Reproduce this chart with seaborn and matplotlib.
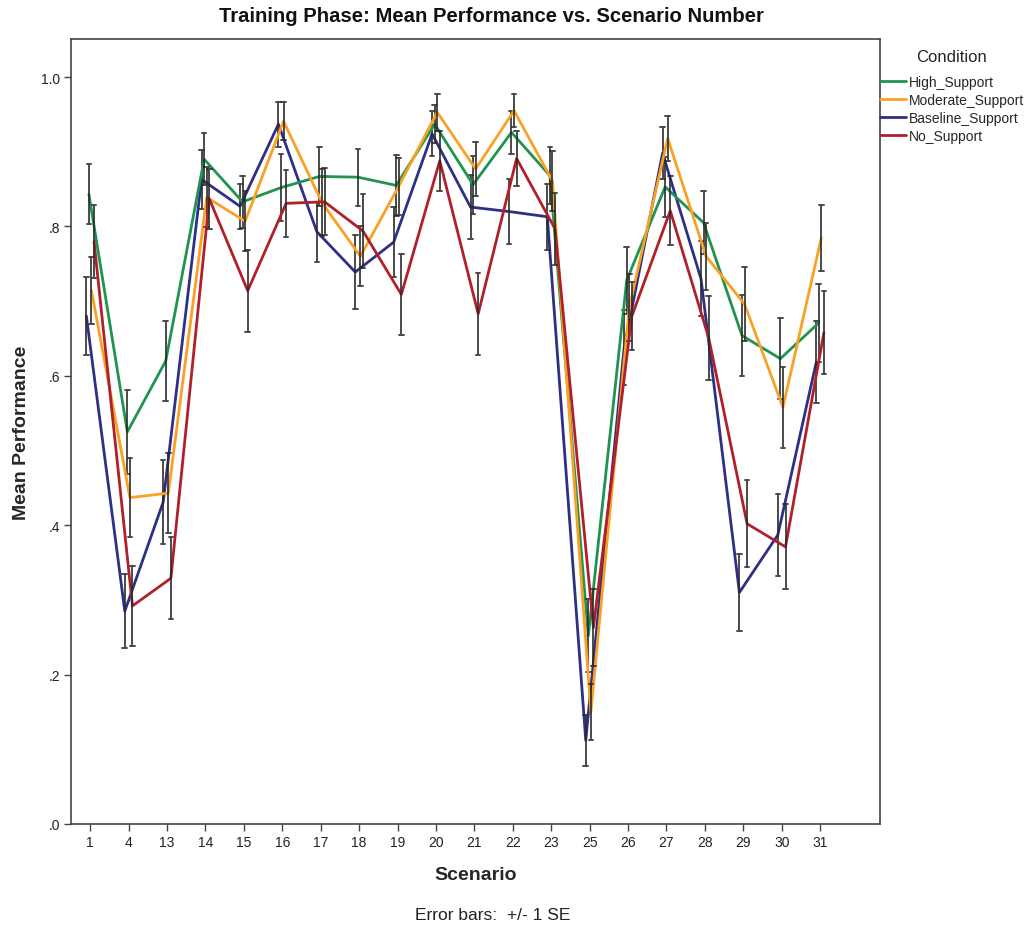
import numpy as np
import pandas as pd
import matplotlib
matplotlib.use("Agg")
import matplotlib.pyplot as plt
import seaborn as sns

# ---------------- data ----------------
scenarios = ["1", "4", "13", "14", "15", "16", "17", "18", "19", "20",
             "21", "22", "23", "25", "26", "27", "28", "29", "30", "31"]

high_mean = [0.843, 0.525, 0.620, 0.890, 0.833, 0.852, 0.867, 0.866, 0.855, 0.937,
             0.856, 0.926, 0.868, 0.252, 0.728, 0.853, 0.805, 0.654, 0.623, 0.671]
high_se = [0.040, 0.056, 0.054, 0.035, 0.035, 0.045, 0.040, 0.038, 0.041, 0.025,
           0.039, 0.029, 0.038, 0.049, 0.045, 0.040, 0.042, 0.054, 0.054, 0.052]

moderate_mean = [0.714, 0.437, 0.443, 0.839, 0.807, 0.941, 0.832, 0.760, 0.854, 0.953,
                 0.877, 0.955, 0.861, 0.150, 0.692, 0.918, 0.760, 0.696, 0.558, 0.785]
moderate_se = [0.045, 0.053, 0.054, 0.040, 0.040, 0.025, 0.045, 0.040, 0.038, 0.025,
               0.036, 0.022, 0.040, 0.037, 0.045, 0.030, 0.045, 0.050, 0.054, 0.044]

baseline_mean = [0.680, 0.285, 0.431, 0.863, 0.827, 0.937, 0.793, 0.739, 0.779, 0.924,
                 0.826, 0.820, 0.813, 0.112, 0.638, 0.898, 0.730, 0.310, 0.387, 0.618]
baseline_se = [0.052, 0.050, 0.056, 0.040, 0.030, 0.030, 0.040, 0.050, 0.047, 0.030,
               0.043, 0.044, 0.044, 0.034, 0.050, 0.035, 0.050, 0.052, 0.055, 0.055]

no_mean = [0.780, 0.292, 0.329, 0.837, 0.714, 0.831, 0.833, 0.794, 0.709, 0.888,
           0.683, 0.891, 0.797, 0.263, 0.680, 0.821, 0.651, 0.402, 0.371, 0.658]
no_se = [0.049, 0.054, 0.055, 0.040, 0.055, 0.045, 0.045, 0.050, 0.054, 0.040,
         0.055, 0.037, 0.048, 0.052, 0.045, 0.046, 0.056, 0.058, 0.057, 0.056]

conditions = ["High_Support", "Moderate_Support", "Baseline_Support", "No_Support"]
colors = ["#1e9450", "#f9a125", "#2e3086", "#b0202a"]
y_ticks = [0.0, 0.2, 0.4, 0.6, 0.8, 1.0]
y_tick_labels = [".0", ".2", ".4", ".6", ".8", "1.0"]

means = {"High_Support": high_mean, "Moderate_Support": moderate_mean,
         "Baseline_Support": baseline_mean, "No_Support": no_mean}
ses = {"High_Support": high_se, "Moderate_Support": moderate_se,
       "Baseline_Support": baseline_se, "No_Support": no_se}

# long table: each point stored as its lower / upper SE bound (mean of the two = mean)
rows = []
for cond in conditions:
    for sc, m, s in zip(scenarios, means[cond], ses[cond]):
        rows.append({"Scenario": sc, "Condition": cond, "Value": m - s})
        rows.append({"Scenario": sc, "Condition": cond, "Value": m + s})
df = pd.DataFrame(rows)

# ---------------- plot ----------------
sns.set_theme(style="white")
plt.rcParams["font.family"] = ["Liberation Sans", "DejaVu Sans"]

fig = plt.figure(figsize=(10.31, 9.28), dpi=100)
ax = fig.add_axes([71 / 1031, 1 - 825 / 928, (880 - 71) / 1031, (825 - 40) / 928])

dodge_order = sorted(conditions)  # dodge offsets follow alphabetical order
palette = dict(zip(conditions, colors))

sns.pointplot(
    data=df, x="Scenario", y="Value", hue="Condition",
    order=scenarios, hue_order=dodge_order, palette=palette,
    estimator="mean", errorbar=lambda v: (v.min(), v.max()),
    dodge=0.2, markers="", linestyles="-", linewidth=2.0,
    capsize=0.12, err_kws={"color": "#2a2a2a", "linewidth": 1.4, "alpha": 0.85},
    ax=ax,
)

ax.set_xlim(-0.5, 20.56)
ax.set_ylim(0, 1.051)
ax.set_yticks(y_ticks)
ax.set_yticklabels(y_tick_labels)

for sp in ax.spines.values():
    sp.set_color("#444444")
    sp.set_linewidth(1.2)
ax.tick_params(axis="both", which="major", direction="out", length=5, width=1,
               color="#444444", labelsize=10, labelcolor="#222222", pad=3,
               bottom=True, left=True)

ax.set_xlabel("Scenario", fontsize=14, fontweight="bold", labelpad=12)
ax.set_ylabel("Mean Performance", fontsize=14, fontweight="bold", labelpad=8)
fig.text(491.5 / 1031, 1 - 17 / 928, "Training Phase: Mean Performance vs. Scenario Number",
         ha="center", va="center", fontsize=14.6, fontweight="bold", color="#111111")

handles, labels = ax.get_legend_handles_labels()
hl = dict(zip(labels, handles))
leg = ax.legend([hl[c] for c in conditions], conditions, title="Condition",
                loc="upper left", bbox_to_anchor=(1.0, 0.987), frameon=False,
                fontsize=10, title_fontsize=12, handlelength=1.9, handletextpad=0.15,
                borderaxespad=0.0, borderpad=0.0, labelspacing=0.28)
leg._legend_box.sep = 8

fig.text(492.5 / 1031, 1 - 916 / 928, "Error bars:  +/- 1 SE",
         ha="center", va="center", fontsize=12.5, color="#222222")

fig.savefig("out.png", dpi=100, facecolor="white")
